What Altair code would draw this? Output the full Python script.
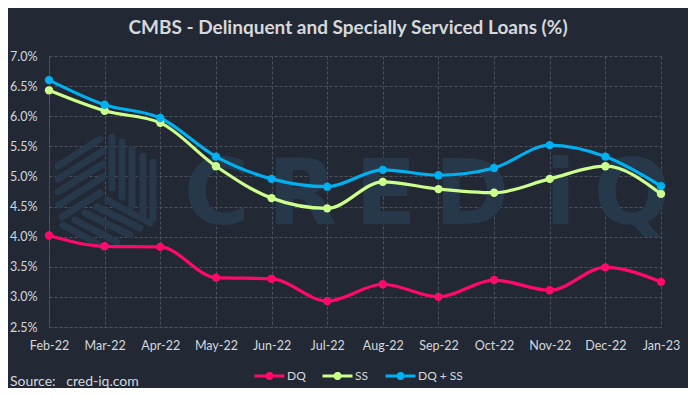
import altair as alt
import pandas as pd

months = ["Feb-22", "Mar-22", "Apr-22", "May-22", "Jun-22", "Jul-22",
          "Aug-22", "Sep-22", "Oct-22", "Nov-22", "Dec-22", "Jan-23"]
dq = [4.02, 3.84, 3.83, 3.32, 3.30, 2.93, 3.21, 3.00, 3.28, 3.11, 3.49, 3.25]
ss = [6.43, 6.09, 5.89, 5.17, 4.64, 4.47, 4.91, 4.79, 4.73, 4.96, 5.17, 4.71]
dq_ss = [6.60, 6.19, 5.97, 5.33, 4.96, 4.83, 5.11, 5.02, 5.14, 5.52, 5.33, 4.84]
series = ["DQ", "SS", "DQ + SS"]
colors = ["#ff0a6c", "#ccff8c", "#00b0f0"]
y_ticks = [0.025, 0.03, 0.035, 0.04, 0.045, 0.05, 0.055, 0.06, 0.065, 0.07]

# faint watermark logo stripes (pixel positions inside the plot area)
logo_x1 = [9, 9, 9, 10, 13, 63, 73, 83, 94, 104, 14, 26, 36, 48, 58]
logo_y1 = [110, 123, 136, 149, 161, 81, 86, 93, 100, 106, 169, 164, 157, 151, 144]
logo_x2 = [51, 54, 54, 54, 51, 63, 73, 83, 94, 104, 54, 68, 81, 91, 101]
logo_y2 = [83, 95, 108, 121, 137, 132, 141, 150, 158, 163, 191, 186, 179, 172, 167]

rows = []
for name, vals in zip(series, [dq, ss, dq_ss]):
    for m, v in zip(months, vals):
        rows.append({"month": m, "series": name, "value": v / 100})
df = pd.DataFrame(rows)
logo = pd.DataFrame({"x1": logo_x1, "y1": logo_y1, "x2": logo_x2, "y2": logo_y2})

BG = "#222834"
GRID = "#4d525c"
TXT = "#d6d8dc"
WM = "#26384a"
FONT = "Lato"

x = alt.X("month:O", sort=months, title=None,
          scale=alt.Scale(type="point", padding=0),
          axis=alt.Axis(labelAngle=0, labelColor=TXT, labelFont=FONT, labelFontSize=12.5,
                        labelPadding=12, ticks=False, grid=True, gridColor=GRID,
                        gridDash=[3, 2], gridWidth=1, domainColor=GRID, domainDash=[3, 2],
                        domainWidth=1))
y = alt.Y("value:Q", title=None,
          scale=alt.Scale(domain=[0.025, 0.07], nice=False, zero=False),
          axis=alt.Axis(values=y_ticks, format=".1%", labelColor=TXT, labelFont=FONT,
                        labelFontSize=12.5, labelPadding=12, ticks=False, grid=True,
                        gridColor=GRID, gridDash=[3, 2], gridWidth=1, domainColor=GRID,
                        domainDash=[3, 2], domainWidth=1))
color_scale = alt.Scale(domain=series, range=colors)

legend_path = ("M-1,0 L1,0 "
               "M-0.17,0 A0.17,0.17 0 1,0 0.17,0 A0.17,0.17 0 1,0 -0.17,0 "
               "M-0.07,0 A0.07,0.07 0 1,0 0.07,0 A0.07,0.07 0 1,0 -0.07,0")
legend = alt.Legend(title=None, orient="none", direction="horizontal",
                    legendX=204, legendY=303, symbolType=legend_path,
                    symbolSize=900, symbolStrokeWidth=3, symbolDash=[1, 0],
                    labelColor=TXT, labelFont=FONT, labelFontSize=12,
                    columnPadding=10, labelOffset=1, symbolOpacity=1)
color = alt.Color("series:N", scale=color_scale, sort=series, legend=legend)

base = alt.Chart(df)

watermark = alt.Chart(pd.DataFrame({"t": ["C\u2009R\u2009E\u2009D\u2009\u2009i\u2009Q"]})).mark_text(
    font="DejaVu Sans", fontSize=90, fontWeight="bold", color=WM,
    align="center", baseline="middle"
).encode(text="t:N", x=alt.value(378), y=alt.value(141))

logo_marks = alt.Chart(logo).mark_rule(strokeWidth=7, strokeCap="round", color=WM).encode(
    x=alt.X("x1:Q", scale=None), y=alt.Y("y1:Q", scale=None),
    x2="x2:Q", y2="y2:Q")

lines = base.mark_line(strokeWidth=3.2, interpolate="monotone").encode(
    x=x, y=y, color=color, order=alt.Order("series:N"))
points = base.mark_point(filled=True, size=70, opacity=1).encode(x=x, y=y, color=color)

source = alt.Chart(pd.DataFrame({"t": ["Source:\u00a0\u00a0\u00a0cred-iq.com"]})).mark_text(
    font=FONT, fontSize=14, color=TXT, align="left", baseline="middle"
).encode(text="t:N", x=alt.value(-39), y=alt.value(326))

chart = alt.layer(watermark, logo_marks, lines, points, source).properties(
    width=612, height=271,
    padding={"left": 41, "top": 48, "right": 27, "bottom": 61},
    autosize=alt.AutoSizeParams(type="none"),
    background=BG,
    title=alt.TitleParams("CMBS - Delinquent and Specially Serviced Loans (%)",
                          anchor="middle", font=FONT, fontSize=19, fontWeight="bold",
                          color=TXT, offset=12, dx=-7),
).configure_view(stroke=None)

chart.save("out.html", embed_options={"renderer": "svg", "actions": False})
